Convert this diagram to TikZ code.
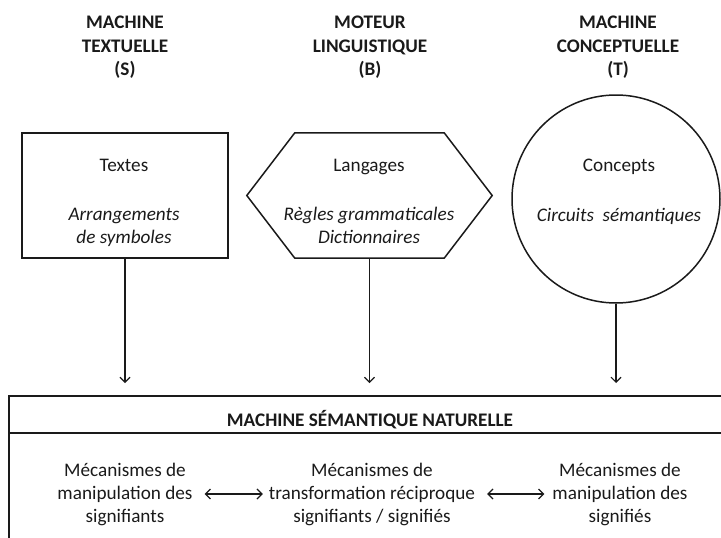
\documentclass[tikz,border=0pt]{standalone}
\usepackage{fontspec}
\setmainfont{Carlito}
\usetikzlibrary{arrows.meta}
\definecolor{ink}{HTML}{1A1A1A}
\begin{document}
\begin{tikzpicture}[x=1pt,y=-1pt,
  every node/.style={text=ink, font=\fontsize{19.2}{23}\selectfont, align=center, inner sep=0pt},
  head/.style={font=\fontsize{19.2}{23.5}\selectfont\bfseries},
  note/.style={font=\fontsize{19.2}{23}\selectfont\itshape},
  outline/.style={draw=ink, line width=1.5pt},
  feed/.style={draw=ink, line width=1.1pt, -{Straight Barb[length=5pt,width=10pt]}},
  link/.style={draw=ink, line width=1.1pt, {Straight Barb[length=5pt,width=10pt]}-{Straight Barb[length=5pt,width=10pt]}},
]
\useasboundingbox (0,0) rectangle (721,538);

% column headings
\node[head] (hS) at (125,47.5) {MACHINE\\TEXTUELLE\\(S)};
\node[head] (hB) at (370,47.5) {MOTEUR\\LINGUISTIQUE\\(B)};
\node[head] (hT) at (618,47.5) {MACHINE\\CONCEPTUELLE\\(T)};

% the three machines
\node[outline, rectangle, minimum width=206pt, minimum height=125pt] (textbox) at (125,195.5) {};
\node[minimum width=245pt, minimum height=125pt] (hexbox) at (369.5,195.5) {};
\draw[outline, line join=miter] (hexbox.west) -- ([xshift=48pt]hexbox.north west)
  -- ([xshift=-48pt]hexbox.north east) -- (hexbox.east)
  -- ([xshift=-48pt]hexbox.south east) -- ([xshift=48pt]hexbox.south west) -- cycle;
\node[outline, circle, minimum size=208pt] (concbox) at (616,199) {};

\node (textes) at (124,165) {Textes};
\node[note] (arrang) at (124,227) {Arrangements\\de symboles};
\node (langages) at (369,167) {Langages};
\node[note] (regles) at (369,225) {Règles grammaticales\\Dictionnaires};
\node (concepts) at (619,167) {Concepts};
\node[note] (circuits) at (619,216) {Circuits\ \ sémantiques};

% feeds into the semantic machine
\coordinate (sIn) at (125,383);
\coordinate (bIn) at (369.5,383);
\coordinate (tIn) at (616,383);
\draw[feed] (textbox.south) -- (sIn);
\draw[feed] (hexbox.south) -- (bIn);
\draw[feed] (concbox.south) -- (tIn);

% semantic machine frame
\coordinate (frameBL) at (9,545);
\coordinate (frameTL) at (9,396);
\coordinate (frameTR) at (730,396);
\coordinate (sepL) at (9,433);
\coordinate (sepR) at (730,433);
\draw[outline] (frameBL) -- (frameTL) -- (frameTR);
\draw[outline] (sepL) -- (sepR);
\node[head] (nsm) at (370,420) {MACHINE SÉMANTIQUE NATURELLE};

\node (mS) at (125,494) {Mécanismes de\\manipulation des\\signifiants};
\node (mB) at (372,494) {Mécanismes de\\transformation réciproque\\signifiants / signifiés};
\node (mT) at (620,494) {Mécanismes de\\manipulation des\\signifiés};

\draw[link, shorten <=12pt, shorten >=6pt] (mS.east) -- (mB.west);
\draw[link, shorten <=12pt, shorten >=8pt] (mB.east) -- (mT.west);
\end{tikzpicture}
\end{document}
